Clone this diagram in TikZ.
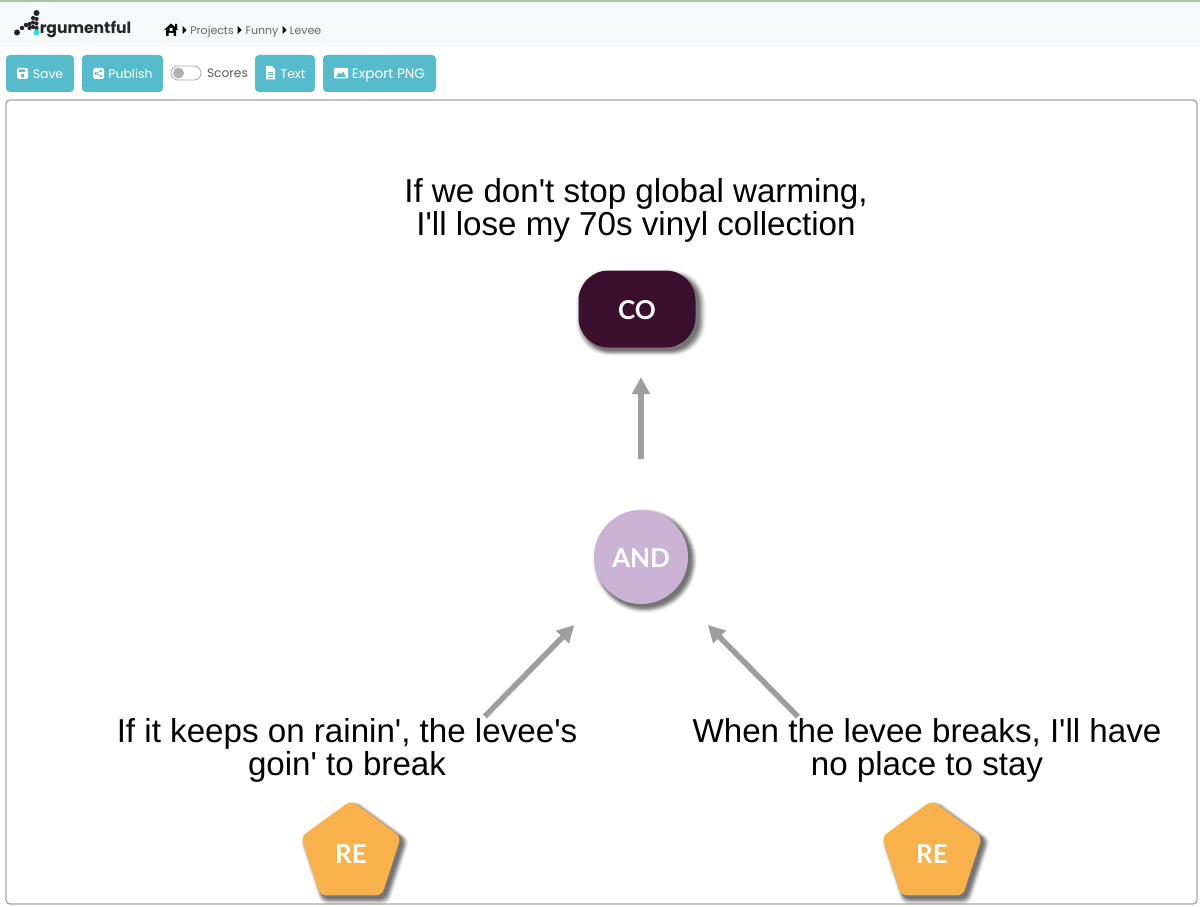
\documentclass[tikz,border=0pt]{standalone}
\usepackage{fontspec}
\setmainfont{Liberation Sans}
\newfontfamily\uifont{Poppins}
\newfontfamily\nodefont{Lato}
\usetikzlibrary{arrows.meta,shapes.geometric,shadows}
\definecolor{tealbtn}{HTML}{56BBCB}
\definecolor{conc}{HTML}{3B0F2E}
\definecolor{andc}{HTML}{CBB3D6}
\definecolor{rec}{HTML}{F9B24B}
\definecolor{arrowc}{HTML}{9E9E9E}
\definecolor{barc}{HTML}{F7F8F9}
\definecolor{logoc}{HTML}{35D9E0}
\newcommand{\fs}[1]{\fontsize{#1}{#1}\selectfont}
\newcommand{\sq}{\textquotesingle}
\tikzset{softshadow/.style={
            drop shadow={shadow xshift=3.5pt, shadow yshift=-3.5pt, shadow scale=1.11, fill=black, opacity=0.04},
            drop shadow={shadow xshift=3.5pt, shadow yshift=-3.5pt, shadow scale=1.09, fill=black, opacity=0.07},
            drop shadow={shadow xshift=3.5pt, shadow yshift=-3.5pt, shadow scale=1.07, fill=black, opacity=0.10},
            drop shadow={shadow xshift=3.5pt, shadow yshift=-3.5pt, shadow scale=1.05, fill=black, opacity=0.13},
            drop shadow={shadow xshift=3.5pt, shadow yshift=-3.5pt, shadow scale=1.03, fill=black, opacity=0.16},
            drop shadow={shadow xshift=3pt, shadow yshift=-3pt, shadow scale=1.01, fill=black, opacity=0.20}},
         btn/.style={rectangle, fill=tealbtn, rounded corners=4pt, inner sep=0pt, minimum height=37pt},
         btntxt/.style={text=white, inner sep=0pt, anchor=base, font=\uifont\fs{12.4}},
         crumb/.style={text=black!60, inner sep=0pt, anchor=base, font=\uifont\fs{11}},
         claim/.style={align=center, inner sep=0pt, text=black, font=\fs{33.15}},
         badge/.style={text=white, inner sep=0pt, yshift=-1pt, font=\nodefont\bfseries\fs{26}},
         link/.style={draw=arrowc, line width=5.5pt, -{Triangle[width=17pt,length=17pt]}},
         dot/.style={circle, fill=black!85, inner sep=0pt, minimum size=#1}}
\begin{document}
\begin{tikzpicture}[x=1pt, y=-1pt]
\useasboundingbox (0,0) rectangle (1200,907);
% page bars
\fill[white] (0,0) rectangle (1200,907);
\fill[barc] (0,2) rectangle (1200,47);
\fill[green!35!black!35] (0,0) rectangle (1200,2);
\node (canvas) at (601.5,502) [rectangle, draw=black!35, line width=1.3pt, rounded corners=4pt,
      minimum width=1191pt, minimum height=804pt, inner sep=0pt] {};
% logo
\foreach \px/\py/\ds in {17/32.5/6, 22/28/4.5, 26/25/4.5, 29.5/28/4.2, 29.5/24/4.2, 33/18/4.2, 33/22.5/4.2,
                         33/27/4.2, 36.5/13/6, 36.5/19/4.2, 36.5/23.5/4.2, 36.5/28/4.2}
   \node[dot=\ds pt] at (\px,\py) {};
\node[dot=6pt, fill=logoc] (logodot) at (36.5,32.5) {};
\node (logo) at (85.5,29.5) [inner sep=0pt, text=black!85, font=\uifont\bfseries\fs{15.6}] {rgumentful};
% breadcrumb
\fill[black] (164,30) -- (171,23.5) -- (175,27) -- (175,24) -- (177,24) -- (177,29) -- (178,30) -- (176,30) -- (176,36) -- (166,36) -- (166,30) -- cycle;
\fill[barc] (169.5,28) rectangle (172.5,31) (168.5,33) rectangle (173.5,36);
\foreach \tx in {182.5, 237.5, 282.5}
   \fill[black] (\tx,26) -- (\tx+4,30) -- (\tx,34) -- cycle;
\node[crumb] (projects) at (212,34.5) {Projects};
\node[crumb] (funny) at (262,34.5) {Funny};
\node[crumb] (levee) at (305.5,34.5) {Levee};
% toolbar
\node[btn, minimum width=68pt] (save) at (40,73.5) {};
\node[btn, minimum width=81pt] (publish) at (122.5,73.5) {};
\node[btn, minimum width=60pt] (text) at (285,73.5) {};
\node[btn, minimum width=113pt] (export) at (379.5,73.5) {};
\node[btntxt] at (48,78) {Save};
\node[btntxt] at (130.5,78) {Publish};
\node[btntxt] at (293,78) {Text};
\node[btntxt, font=\uifont\fs{13.6}] at (388.5,78) {Export PNG};
\fill[white, rounded corners=1.5pt] (17,68) rectangle (28,79);
\fill[tealbtn] (19,69.5) rectangle (25,72) (21,74) rectangle (24,77);
\fill[white, rounded corners=1.5pt] (93,68) rectangle (104,79);
\fill[tealbtn] (95.5,73.5) circle (1.3) (101,70.8) circle (1.3) (101,76.2) circle (1.3);
\draw[tealbtn, line width=0.7pt] (101,70.8) -- (95.5,73.5) -- (101,76.2);
\fill[white] (266,66) -- (272,66) -- (275,69.5) -- (275,79.5) -- (266,79.5) -- cycle;
\draw[tealbtn, line width=0.7pt] (268,72) -- (273,72) (268,74.5) -- (273,74.5) (268,77) -- (273,77);
\fill[white, rounded corners=1pt] (334,68) rectangle (348,78.5);
\fill[tealbtn] (336,77) -- (339,72.5) -- (341,74.5) -- (343,71.5) -- (346,77) -- cycle;
\node (toggle) at (186,73) [rectangle, draw=black!35, rounded corners=7pt, line width=0.7pt,
      minimum width=30pt, minimum height=14pt, inner sep=0pt] {};
\node (knob) at (178.5,73) [circle, fill=black!30, inner sep=0pt, minimum size=11pt] {};
\node (scores) at (227.5,77.5) [inner sep=0pt, anchor=base, text=black!65, font=\uifont\fs{12.2}] {Scores};
% argument
\node (conode) at (637,309) [rectangle, fill=conc, rounded corners=30pt, minimum width=117pt,
      minimum height=77pt, inner sep=0pt, softshadow] {};
\node[badge] at (conode) {CO};
\node (andnode) at (641,557) [circle, fill=andc, minimum size=94pt, inner sep=0pt, softshadow] {};
\node[badge] at (andnode) {AND};
\node (releft) at (351,853) [regular polygon, regular polygon sides=5, fill=rec, minimum size=105pt,
      inner sep=0pt, rounded corners=6pt, softshadow] {};
\node[badge] at (releft) {RE};
\node (reright) at (932,853) [regular polygon, regular polygon sides=5, fill=rec, minimum size=105pt,
      inner sep=0pt, rounded corners=6pt, softshadow] {};
\node[badge] at (reright) {RE};
\coordinate (cobase) at (641,347);
\draw[link, shorten <=51pt, shorten >=30pt] (andnode.north) -- (cobase);
\draw[link, shorten <=148pt, shorten >=48pt] (releft) -- (andnode);
\draw[link, shorten <=148pt, shorten >=48pt] (reright) -- (andnode);
\node[claim] (cotext) at (636,210.5) {If we don\sq t stop global warming,\\[0.5pt]I\sq ll lose my 70s vinyl collection};
\node[claim] (lefttext) at (347,750.5) {If it keeps on rainin\sq, the levee\sq s\\[0.5pt]goin\sq\ to break};
\node[claim] (righttext) at (927,750.5) {When the levee breaks, I\sq ll have\\[0.5pt]no place to stay};
\end{tikzpicture}
\end{document}
